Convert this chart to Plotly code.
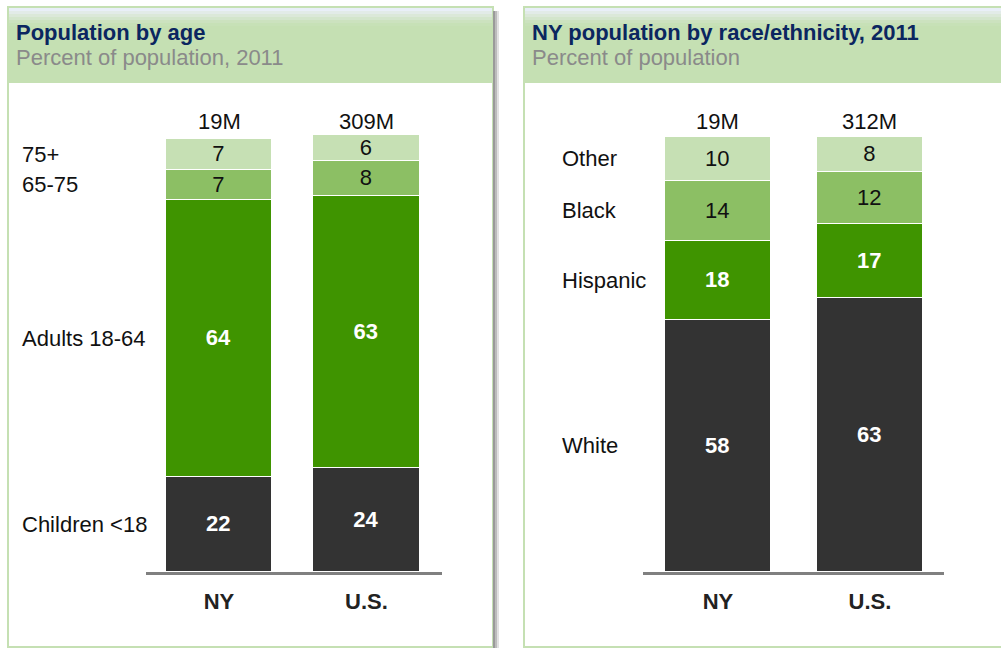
import plotly.graph_objects as go

W, H = 1001, 648
FONT = "Liberation Sans, Arial, sans-serif"

# ---------------- data ----------------
places = ["NY", "U.S."]

age_groups = ["Children <18", "Adults 18-64", "65-75", "75+"]   # bottom -> top
age_values = [[22, 24], [64, 63], [7, 8], [7, 6]]
age_totals = ["19M", "309M"]

race_groups = ["White", "Hispanic", "Black", "Other"]           # bottom -> top
race_values = [[58, 63], [18, 17], [14, 12], [10, 8]]
race_totals = ["19M", "312M"]

titles = ["Population by age", "NY population by race/ethnicity, 2011"]
subtitles = ["Percent of population, 2011", "Percent of population"]

# ---------------- styles ----------------
seg_colors = ["#333333", "#3f9400", "#8cbf64", "#c6e0b4"]
seg_text_colors = ["white", "white", "#111111", "#111111"]
seg_text_weight = ["bold", "bold", "normal", "normal"]
header_green = "#c5e0b3"


def px(x):
    return x / W


def py(y):
    return 1 - y / H


fig = go.Figure()

panels = [
    dict(groups=age_groups, values=age_values, totals=age_totals,
         xa="x", ya="y", dom_x=(146, 442), dom_y=(572, 135),
         yrange=[0, 101], xrange=[-0.495, 1.512], width=0.72, label_x=20,
         title_x=14),
    dict(groups=race_groups, values=race_values, totals=race_totals,
         xa="x2", ya="y2", dom_x=(643, 944), dom_y=(572, 137),
         yrange=[0, 100], xrange=[-0.493, 1.487], width=0.70, label_x=560,
         title_x=530),
]

shapes = []
annotations = []

# panel frames
for (x0, x1) in [(8, 493), (524, 1010)]:
    shapes.append(dict(type="rect", xref="paper", yref="paper",
                       x0=px(x0), x1=px(x1), y0=py(647), y1=py(7),
                       fillcolor="white", line=dict(color=header_green, width=2),
                       layer="below"))
    shapes.append(dict(type="rect", xref="paper", yref="paper",
                       x0=px(x0), x1=px(x1), y0=py(83), y1=py(7),
                       fillcolor=header_green, line=dict(width=0), layer="below"))
    grad = ["#e9eff8", "#e2ebe8", "#dbe8d9", "#d3e5cc", "#cce2bf", "#c7e1b7"]
    for i, c in enumerate(grad):
        shapes.append(dict(type="rect", xref="paper", yref="paper",
                           x0=px(x0 + 1), x1=px(x1 - 1),
                           y0=py(8 + 3 * (i + 1)), y1=py(8 + 3 * i),
                           fillcolor=c, line=dict(width=0), layer="below"))

# shadow of left panel
for (sx0, sx1, c) in [(493, 495, "#9a9a9a"), (495, 497, "#bcbcbc"), (497, 499, "#e2e2e2")]:
    shapes.append(dict(type="rect", xref="paper", yref="paper",
                       x0=px(sx0), x1=px(sx1), y0=py(648), y1=py(11),
                       fillcolor=c, line=dict(width=0), layer="below"))

for p in panels:
    for i, g in enumerate(p["groups"]):
        fig.add_trace(go.Bar(
            x=places, y=p["values"][i], name=g,
            xaxis=p["xa"], yaxis=p["ya"], width=p["width"],
            marker=dict(color=seg_colors[i], line=dict(color="white", width=1.5)),
            text=p["values"][i], textposition="inside", insidetextanchor="middle",
            constraintext="none", textangle=0,
            textfont=dict(family=FONT, size=22, color=seg_text_colors[i],
                          weight=seg_text_weight[i]),
            hoverinfo="skip", showlegend=False,
        ))
    # totals above bars
    for j, t in enumerate(p["totals"]):
        annotations.append(dict(x=places[j], xref=p["xa"], y=py(122), yref="paper",
                                yanchor="middle", text=t, showarrow=False,
                                font=dict(family=FONT, size=22, color="#111111")))
    # row labels aligned with NY segments
    cum = 0
    for i, g in enumerate(p["groups"]):
        v = p["values"][i][0]
        annotations.append(dict(x=px(p["label_x"]), xref="paper", xanchor="left",
                                y=cum + v / 2, yref=p["ya"], yanchor="middle",
                                text=g, showarrow=False,
                                font=dict(family=FONT, size=22, color="#111111")))
        cum += v

for k, p in enumerate(panels):
    annotations.append(dict(x=px(p["title_x"]), xref="paper", xanchor="left",
                            y=py(32), yref="paper", yanchor="middle",
                            text="<b>" + titles[k] + "</b>", showarrow=False,
                            font=dict(family=FONT, size=22, color="#0b2660")))
    annotations.append(dict(x=px(p["title_x"]), xref="paper", xanchor="left",
                            y=py(58), yref="paper", yanchor="middle",
                            text=subtitles[k], showarrow=False,
                            font=dict(family=FONT, size=22, color="#8a8a8a")))

axis_common_x = dict(showgrid=False, zeroline=False, showline=True,
                     linecolor="#808080", linewidth=3, ticks="",
                     ticklabelstandoff=8,
                     tickfont=dict(family=FONT, size=22, color="#222222",
                                   weight="bold"),
                     fixedrange=True)
axis_common_y = dict(showgrid=False, zeroline=False, showline=False,
                     showticklabels=False, ticks="", fixedrange=True)

p0, p1 = panels
fig.update_layout(
    width=W, height=H,
    margin=dict(l=0, r=0, t=0, b=0),
    paper_bgcolor="white", plot_bgcolor="rgba(0,0,0,0)",
    barmode="stack", bargap=0,
    xaxis=dict(domain=[px(p0["dom_x"][0]), px(p0["dom_x"][1])],
               range=p0["xrange"], anchor="y", **axis_common_x),
    yaxis=dict(domain=[py(p0["dom_y"][0]), py(p0["dom_y"][1])],
               range=p0["yrange"], anchor="x", **axis_common_y),
    xaxis2=dict(domain=[px(p1["dom_x"][0]), px(p1["dom_x"][1])],
                range=p1["xrange"], anchor="y2", **axis_common_x),
    yaxis2=dict(domain=[py(p1["dom_y"][0]), py(p1["dom_y"][1])],
                range=p1["yrange"], anchor="x2", **axis_common_y),
    shapes=shapes,
    annotations=annotations,
)

fig.write_html(
    "out.html",
    config={"displayModeBar": False},
    post_script="document.body.style.margin='0';document.body.style.overflow='hidden';",
)
